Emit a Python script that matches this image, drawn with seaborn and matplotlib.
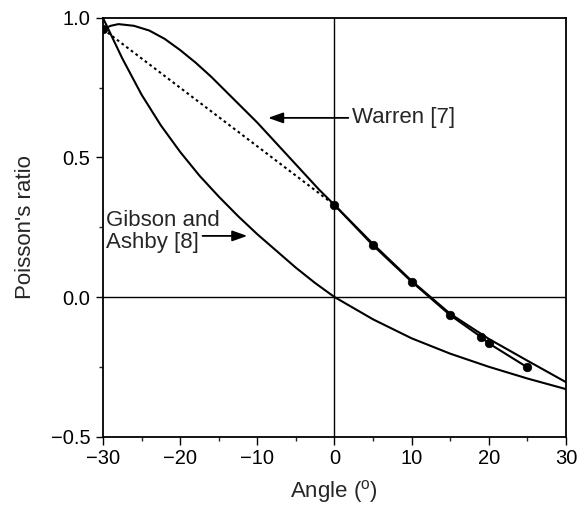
import matplotlib
matplotlib.use("Agg")
import matplotlib.pyplot as plt
import seaborn as sns
import pandas as pd
from matplotlib.ticker import MultipleLocator

# Gibson and Ashby [8] curve
gibson_angle = [-30, -27.5, -25, -22.5, -20, -17.5, -15, -12.5, -10, -7.5, -5, -2.5, 0,
                5, 10, 15, 20, 25, 30]
gibson_nu = [1.0, 0.855, 0.725, 0.615, 0.52, 0.435, 0.36, 0.29, 0.225, 0.165, 0.105, 0.05, 0.0,
             -0.08, -0.148, -0.203, -0.25, -0.292, -0.33]

# Warren [7] curve
warren_angle = [-30, -29, -28, -26, -24, -22, -20, -18, -16, -14, -12, -10, -8, -6, -4, -2, 0,
                5, 10, 15, 20, 25, 30]
warren_nu = [0.96, 0.972, 0.978, 0.972, 0.955, 0.925, 0.885, 0.84, 0.79, 0.735, 0.68, 0.625,
             0.565, 0.505, 0.445, 0.385, 0.33, 0.19, 0.058, -0.06, -0.15, -0.228, -0.305]

# Measured points
meas_angle = [-30, 0, 5, 10, 15, 19, 20, 25]
meas_nu = [0.96, 0.33, 0.185, 0.055, -0.065, -0.143, -0.166, -0.252]

xticks = [-30, -20, -10, 0, 10, 20, 30]
yticks = [-0.5, 0.0, 0.5, 1.0]

sns.set_style("ticks")
plt.rcParams["font.family"] = ["Liberation Sans", "DejaVu Sans"]
plt.rcParams["mathtext.fontset"] = "custom"
plt.rcParams["mathtext.rm"] = "Liberation Sans"
plt.rcParams["mathtext.it"] = "Liberation Sans"

fig = plt.figure(figsize=(5.84, 5.08), dpi=100)
ax = fig.add_axes([0.1764, 0.1407, 0.7926, 0.8239])

ax.axhline(0, color="black", lw=1.0, zorder=1)
ax.axvline(0, color="black", lw=1.0, zorder=1)

g = pd.DataFrame({"angle": gibson_angle, "nu": gibson_nu})
w = pd.DataFrame({"angle": warren_angle, "nu": warren_nu})
m = pd.DataFrame({"angle": meas_angle, "nu": meas_nu})

sns.lineplot(data=g, x="angle", y="nu", ax=ax, color="black", lw=1.5, sort=False)
sns.lineplot(data=w, x="angle", y="nu", ax=ax, color="black", lw=1.5, sort=False)
sns.lineplot(data=m.iloc[:2], x="angle", y="nu", ax=ax, color="black", lw=1.5,
             linestyle=(0, (1.3, 1.5)), sort=False)
sns.lineplot(data=m.iloc[1:], x="angle", y="nu", ax=ax, color="black", lw=1.5, sort=False)
sns.scatterplot(data=m, x="angle", y="nu", ax=ax, color="black", s=38, edgecolor="black",
                zorder=5)

ax.set_xlim(-30, 30)
ax.set_ylim(-0.5, 1.0)
ax.set_xticks(xticks)
ax.set_yticks(yticks)
ax.set_xticklabels([f"{t}".replace("-", "\u2212") for t in xticks])
ax.set_yticklabels([f"{t:.1f}".replace("-", "\u2212") for t in yticks])
ax.xaxis.set_minor_locator(MultipleLocator(5))
ax.yaxis.set_minor_locator(MultipleLocator(0.25))
ax.tick_params(axis="x", which="major", direction="out", length=6, width=1.0, labelsize=14.5,
               colors="black", pad=3)
ax.tick_params(axis="y", which="major", direction="out", length=5, width=1.0, labelsize=14.5,
               colors="black", pad=4)
ax.tick_params(which="minor", direction="out", length=3, width=1.0)
for s in ax.spines.values():
    s.set_visible(True)
    s.set_linewidth(1.3)
    s.set_color("black")

ax.set_xlabel(r"Angle ($^{\mathrm{o}}$)", fontsize=16, labelpad=7)
ax.set_ylabel("Poisson's ratio", fontsize=16, labelpad=11)

ax.annotate("", xy=(-8.6, 0.642), xytext=(1.8, 0.642),
            arrowprops=dict(arrowstyle="-|>,head_length=0.9,head_width=0.32", color="black",
                            lw=1.3, shrinkA=0, shrinkB=0))
ax.text(2.3, 0.642, "Warren [7]", fontsize=16, va="center", ha="left")

ax.annotate("", xy=(-11.3, 0.219), xytext=(-17.1, 0.219),
            arrowprops=dict(arrowstyle="-|>,head_length=0.9,head_width=0.32", color="black",
                            lw=1.3, shrinkA=0, shrinkB=0))
ax.text(-29.6, 0.235, "Gibson and\nAshby [8]", fontsize=16, va="center", ha="left",
        linespacing=1.05)

fig.savefig("out.png", dpi=100)
